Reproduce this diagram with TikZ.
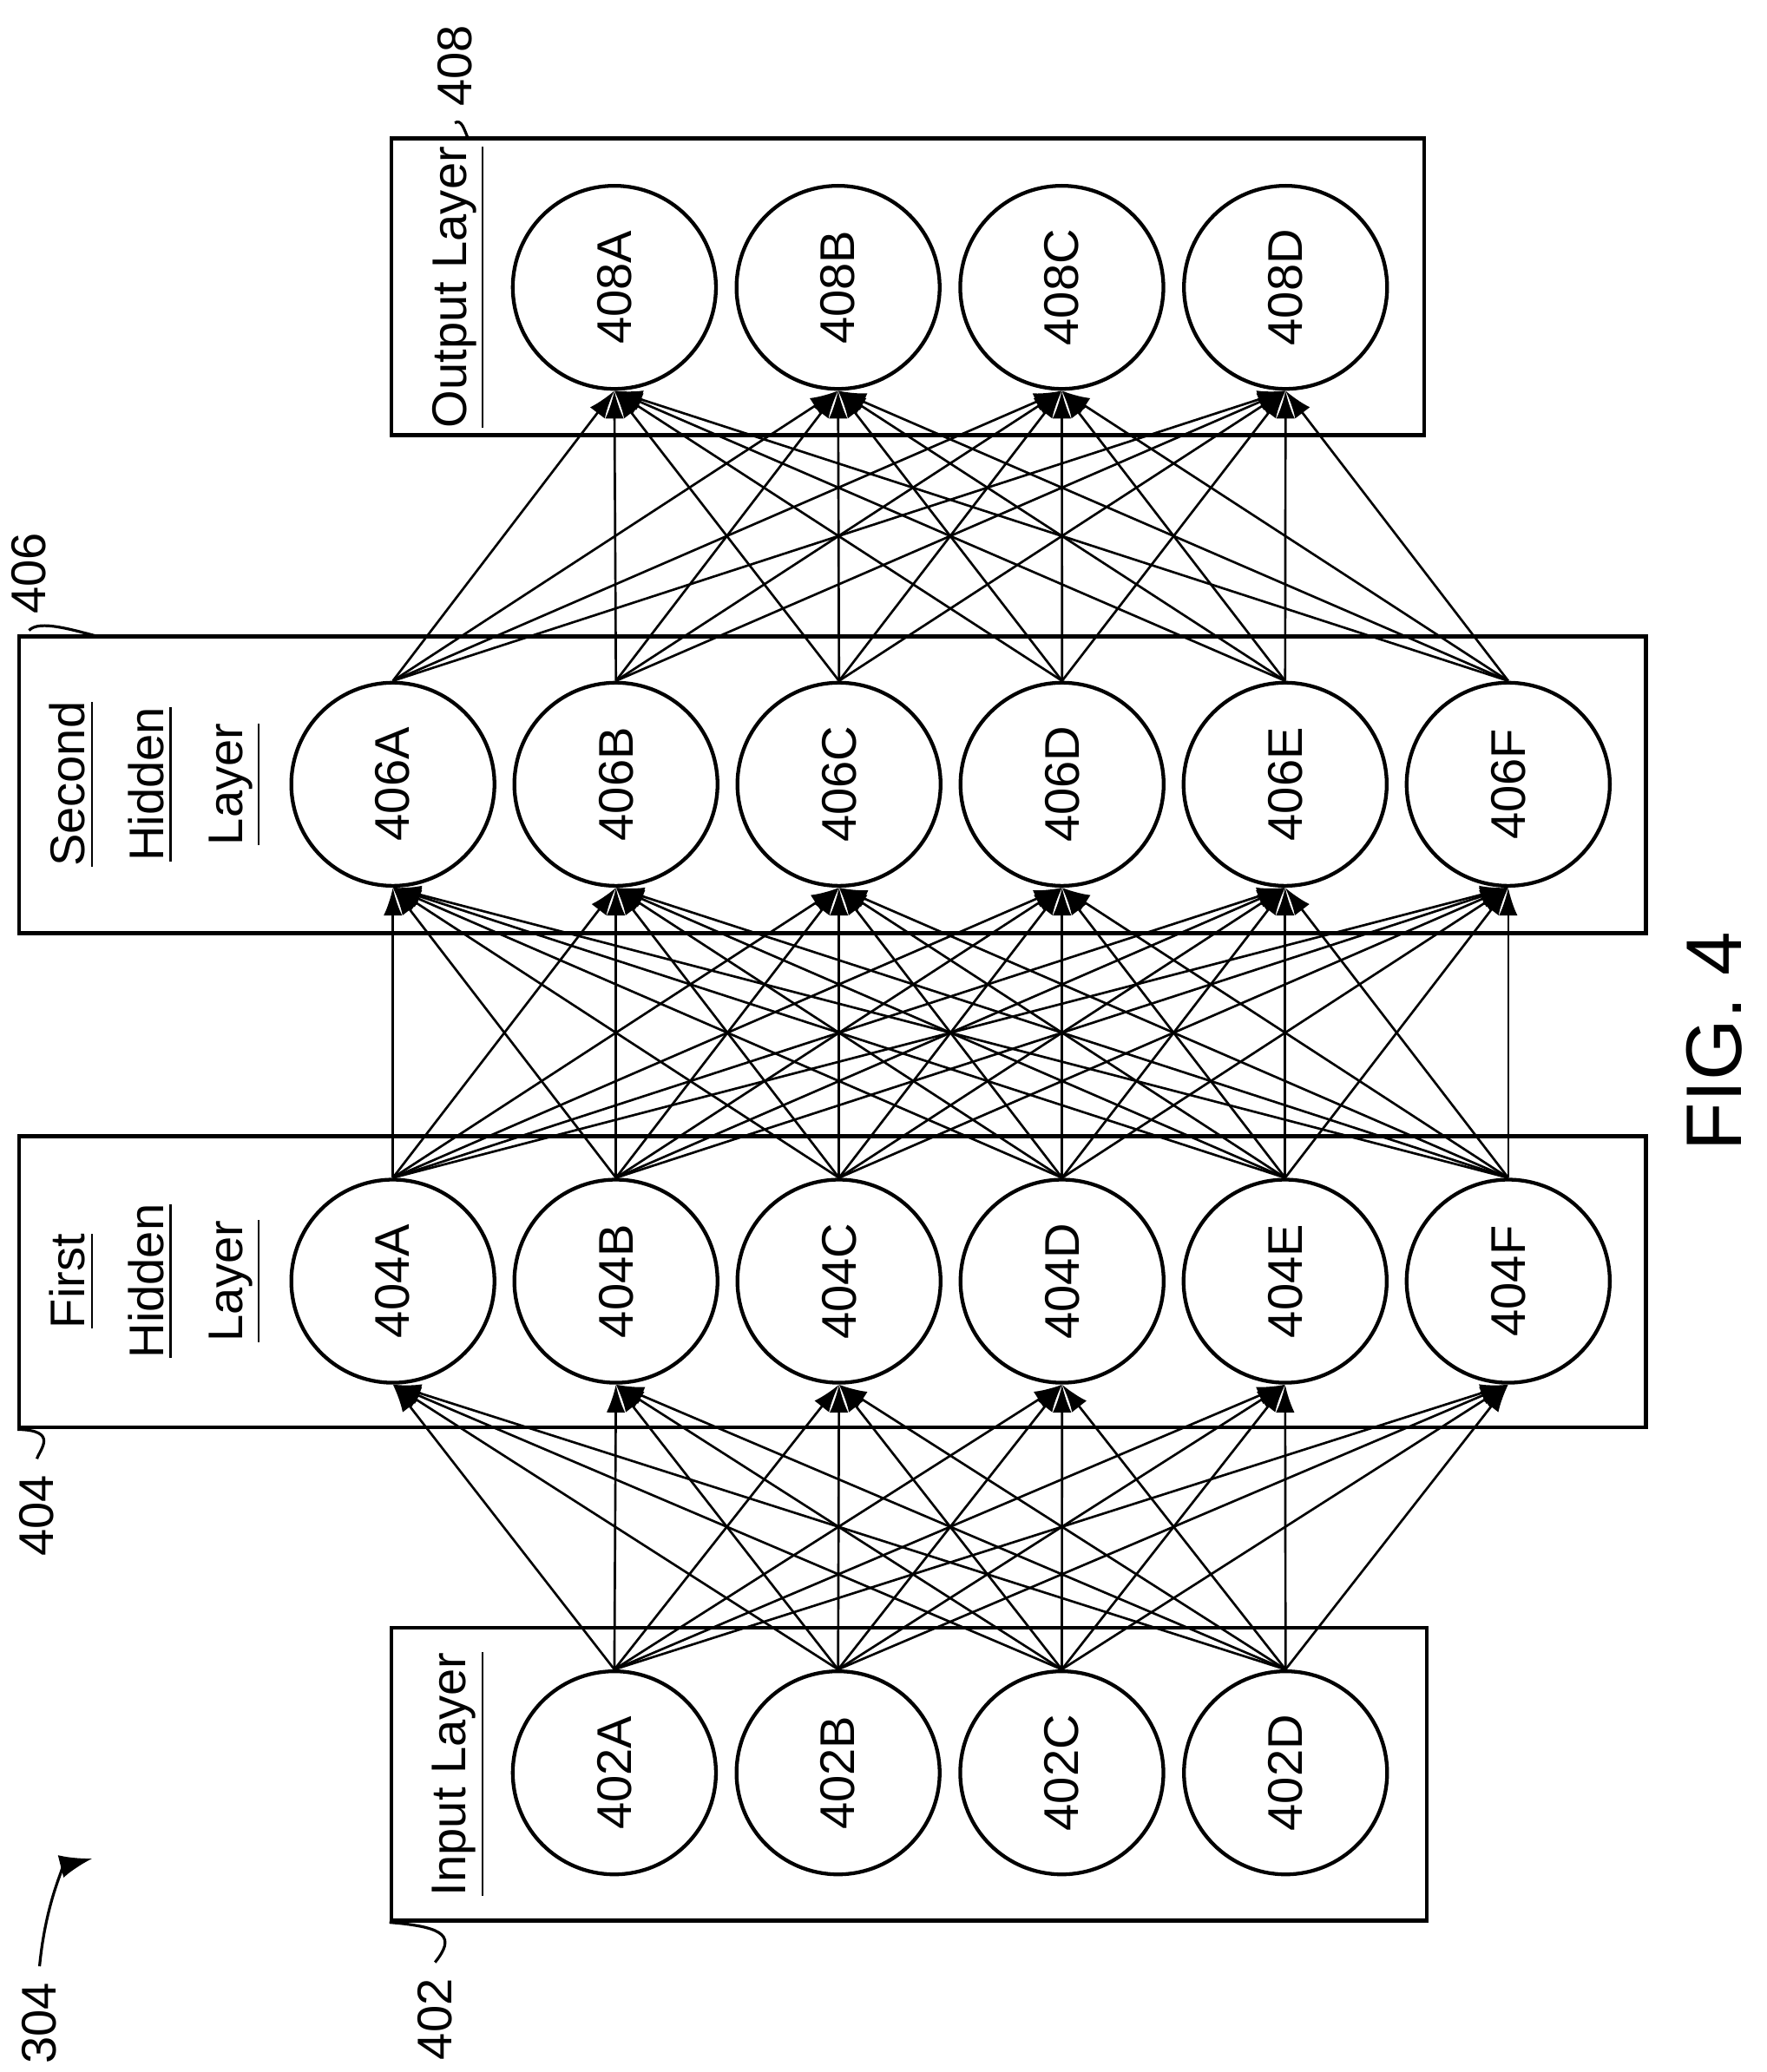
\documentclass[tikz,border=0pt]{standalone}
\usepackage{fontspec}
\setmainfont{Liberation Sans}
\usetikzlibrary{arrows.meta}

\tikzset{
  neuron/.style={draw, circle, line width=0.8pt, minimum size=1.54cm, inner sep=0pt, font=\fontsize{10.5}{12}\selectfont},
  layerbox/.style={draw, line width=0.8pt, inner sep=0pt},
  conn/.style={-{Latex[length=6pt,width=4pt]}, line width=0.5pt},
  boxtext/.style={rotate=90, align=center, font=\fontsize{10.5}{17}\selectfont},
  refnum/.style={rotate=90, font=\fontsize{10.5}{12}\selectfont}
}

\begin{document}
\begin{tikzpicture}[x=0.01cm, y=-0.01cm]
\useasboundingbox (0,0) rectangle (1340,1572);

% layer boxes
\node[layerbox, minimum width=7.85cm, minimum height=2.22cm] (inbox) at (689.5,1346) {};
\node[layerbox, minimum width=12.33cm, minimum height=2.21cm] (hidone) at (631.5,972.5) {};
\node[layerbox, minimum width=12.33cm, minimum height=2.25cm] (hidtwo) at (631.5,595.5) {};
\node[layerbox, minimum width=7.83cm, minimum height=2.25cm] (outbox) at (688.5,217.5) {};

% box titles
\node[boxtext] at (348,1346) {\underline{Input Layer}};
\node[boxtext] at (118,972) {\underline{First}\\ \underline{Hidden}\\ \underline{Layer}};
\node[boxtext] at (118,595) {\underline{Second}\\ \underline{Hidden}\\ \underline{Layer}};
\node[boxtext] at (348,218) {\underline{Output Layer}};

% neurons
\foreach \n [count=\i] in {A,B,C,D} {
  \node[neuron] (in\n) at (466+169.7*\i-169.7,1345) {\rotatebox{90}{402\n}};
  \node[neuron] (out\n) at (466+169.7*\i-169.7,218) {\rotatebox{90}{408\n}};
}
\foreach \n [count=\i] in {A,B,C,D,E,F} {
  \node[neuron] (ha\n) at (298+169.2*\i-169.2,972) {\rotatebox{90}{404\n}};
  \node[neuron] (hb\n) at (298+169.2*\i-169.2,595) {\rotatebox{90}{406\n}};
}

% connections
\foreach \s in {A,B,C,D}
  \foreach \t in {A,B,C,D,E,F}
    \draw[conn] (in\s.north) -- (ha\t.south);
\foreach \s in {A,B,C,D,E,F}
  \foreach \t in {A,B,C,D,E,F}
    \draw[conn] (ha\s.north) -- (hb\t.south);
\foreach \s in {A,B,C,D,E,F}
  \foreach \t in {A,B,C,D}
    \draw[conn] (hb\s.north) -- (out\t.south);

% reference numerals
\node[refnum] (lbl402) at (330,1532) {402};
\draw[line width=0.6pt] (lbl402.east) .. controls (345,1470) and (340,1462) .. (inbox.south west);
\node[refnum] (lbl404) at (28,1150) {404};
\draw[line width=0.6pt] (lbl404.east) .. controls (30,1100) and (45,1085) .. (hidone.south west);
\coordinate (cnr406) at (75,483);
\node[refnum] (lbl406) at (22,435) {406};
\draw[line width=0.6pt] (lbl406.west) .. controls (30,470) and (55,478) .. (cnr406);
\coordinate (cnr408) at (355,105);
\node[refnum] (lbl408) at (345,50) {408};
\draw[line width=0.6pt] (lbl408.west) .. controls (350,90) and (352,98) .. (cnr408);
\node[refnum] (lbl304) at (30,1535) {304};
\coordinate (tip304) at (70,1410);
\draw[line width=0.6pt, -{Latex[length=7pt,width=5pt]}] (lbl304.east) .. controls (35,1440) and (50,1415) .. (tip304);

% figure label
\node[rotate=90, font=\fontsize{17}{20}\selectfont] (fig) at (1300,790) {FIG. 4};
\end{tikzpicture}
\end{document}
